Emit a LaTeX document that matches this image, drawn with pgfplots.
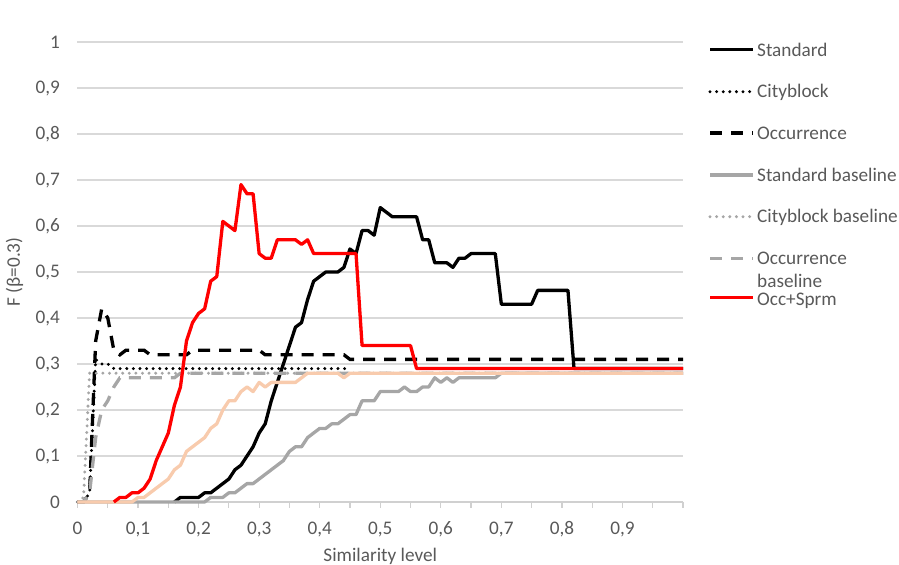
\documentclass[border=0pt]{standalone}
\usepackage{fontspec}
\setmainfont{Carlito}
\usepackage{pgfplots}
\usepackage{pgfplotstable}
\pgfplotsset{compat=1.18}

\definecolor{txtgray}{HTML}{595959}
\definecolor{gridgray}{HTML}{D9D9D9}
\definecolor{axisgray}{HTML}{D0D0D0}
\definecolor{basegray}{HTML}{A6A6A6}
\definecolor{peach}{HTML}{F8CBAD}
\definecolor{exred}{HTML}{FF0000}

% x: similarity level; columns: F(beta=0.3) per method
\pgfplotstableread{
x    std  city occ  stdb cityb occb peach sprm
0.00 nan  0    0    0    0    0    0    nan
0.01 nan  0    0    0    0.01 0    0    nan
0.02 nan  0.02 0.02 0    0.28 0.02 0    nan
0.03 nan  0.31 0.35 0    0.28 0.14 0    nan
0.04 nan  0.30 0.42 0    0.28 0.20 0    nan
0.05 nan  0.30 0.40 0    0.28 0.22 0    nan
0.06 nan  0.29 0.33 0    0.28 0.25 0    0
0.07 nan  0.29 0.32 0    0.28 0.27 0    0.01
0.08 nan  0.29 0.33 0    0.28 0.27 0    0.01
0.09 nan  0.29 0.33 0    0.28 0.27 0    0.02
0.10 nan  0.29 0.33 0    0.28 0.27 0.01 0.02
0.11 nan  0.29 0.33 0    0.28 0.27 0.01 0.03
0.12 nan  0.29 0.32 0    0.28 0.27 0.02 0.05
0.13 nan  0.29 0.32 0    0.28 0.27 0.03 0.09
0.14 nan  0.29 0.32 0    0.28 0.27 0.04 0.12
0.15 nan  0.29 0.32 0    0.28 0.27 0.05 0.15
0.16 0    0.29 0.32 0    0.28 0.27 0.07 0.21
0.17 0.01 0.29 0.32 0    0.28 0.28 0.08 0.25
0.18 0.01 0.29 0.32 0    0.28 0.28 0.11 0.35
0.19 0.01 0.29 0.33 0    0.28 0.28 0.12 0.39
0.20 0.01 0.29 0.33 0    0.28 0.28 0.13 0.41
0.21 0.02 0.29 0.33 0    0.28 0.28 0.14 0.42
0.22 0.02 0.29 0.33 0.01 0.28 0.28 0.16 0.48
0.23 0.03 0.29 0.33 0.01 0.28 0.28 0.17 0.49
0.24 0.04 0.29 0.33 0.01 0.28 0.28 0.20 0.61
0.25 0.05 0.29 0.33 0.02 0.28 0.28 0.22 0.60
0.26 0.07 0.29 0.33 0.02 0.28 0.28 0.22 0.59
0.27 0.08 0.29 0.33 0.03 0.28 0.28 0.24 0.69
0.28 0.10 0.29 0.33 0.04 0.28 0.28 0.25 0.67
0.29 0.12 0.29 0.33 0.04 0.28 0.28 0.24 0.67
0.30 0.15 0.29 0.33 0.05 0.28 0.28 0.26 0.54
0.31 0.17 0.29 0.32 0.06 0.28 0.28 0.25 0.53
0.32 0.22 0.29 0.32 0.07 0.28 0.28 0.26 0.53
0.33 0.26 0.29 0.32 0.08 0.28 0.28 0.26 0.57
0.34 0.30 0.29 0.32 0.09 0.28 0.28 0.26 0.57
0.35 0.34 0.29 0.32 0.11 0.28 0.28 0.26 0.57
0.36 0.38 0.29 0.32 0.12 0.28 0.28 0.26 0.57
0.37 0.39 0.29 0.32 0.12 0.28 0.28 0.27 0.56
0.38 0.44 0.29 0.32 0.14 0.28 0.28 0.28 0.57
0.39 0.48 0.29 0.32 0.15 0.28 0.28 0.28 0.54
0.40 0.49 0.29 0.32 0.16 0.28 0.28 0.28 0.54
0.41 0.50 0.29 0.32 0.16 0.28 0.28 0.28 0.54
0.42 0.50 0.29 0.32 0.17 0.28 0.28 0.28 0.54
0.43 0.50 0.29 0.32 0.17 0.28 0.28 0.28 0.54
0.44 0.51 0.29 0.32 0.18 0.28 0.28 0.27 0.54
0.45 0.55 0.29 0.31 0.19 0.28 0.28 0.28 0.54
0.46 0.54 nan  0.31 0.19 0.28 0.28 0.28 0.54
0.47 0.59 nan  0.31 0.22 0.28 0.28 0.28 0.34
0.48 0.59 nan  0.31 0.22 0.28 0.28 0.28 0.34
0.49 0.58 nan  0.31 0.22 0.28 0.28 0.28 0.34
0.50 0.64 nan  0.31 0.24 0.28 0.28 0.28 0.34
0.51 0.63 nan  0.31 0.24 0.28 0.28 0.28 0.34
0.52 0.62 nan  0.31 0.24 0.28 0.28 0.28 0.34
0.53 0.62 nan  0.31 0.24 0.28 0.28 0.28 0.34
0.54 0.62 nan  0.31 0.25 0.28 0.28 0.28 0.34
0.55 0.62 nan  0.31 0.24 0.28 0.28 0.28 0.34
0.56 0.62 nan  0.31 0.24 0.28 0.28 0.28 0.29
0.57 0.57 nan  0.31 0.25 0.28 0.28 0.28 0.29
0.58 0.57 nan  0.31 0.25 0.28 0.28 0.28 0.29
0.59 0.52 nan  0.31 0.27 0.28 0.28 0.28 0.29
0.60 0.52 nan  0.31 0.26 0.28 0.28 0.28 0.29
0.61 0.52 nan  0.31 0.27 0.28 0.28 0.28 0.29
0.62 0.51 nan  0.31 0.26 0.28 0.28 0.28 0.29
0.63 0.53 nan  0.31 0.27 0.28 0.28 0.28 0.29
0.64 0.53 nan  0.31 0.27 0.28 0.28 0.28 0.29
0.65 0.54 nan  0.31 0.27 0.28 0.28 0.28 0.29
0.66 0.54 nan  0.31 0.27 0.28 0.28 0.28 0.29
0.67 0.54 nan  0.31 0.27 0.28 0.28 0.28 0.29
0.68 0.54 nan  0.31 0.27 0.28 0.28 0.28 0.29
0.69 0.54 nan  0.31 0.27 0.28 0.28 0.28 0.29
0.70 0.43 nan  0.31 0.28 0.28 0.28 0.28 0.29
0.71 0.43 nan  0.31 0.28 0.28 0.28 0.28 0.29
0.72 0.43 nan  0.31 0.28 0.28 0.28 0.28 0.29
0.73 0.43 nan  0.31 0.28 0.28 0.28 0.28 0.29
0.74 0.43 nan  0.31 0.28 0.28 0.28 0.28 0.29
0.75 0.43 nan  0.31 0.28 0.28 0.28 0.28 0.29
0.76 0.46 nan  0.31 0.28 0.28 0.28 0.28 0.29
0.77 0.46 nan  0.31 0.28 0.28 0.28 0.28 0.29
0.78 0.46 nan  0.31 0.28 0.28 0.28 0.28 0.29
0.79 0.46 nan  0.31 0.28 0.28 0.28 0.28 0.29
0.80 0.46 nan  0.31 0.28 0.28 0.28 0.28 0.29
0.81 0.46 nan  0.31 0.28 0.28 0.28 0.28 0.29
0.82 0.29 nan  0.31 0.28 0.28 0.28 0.28 0.29
0.83 0.29 nan  0.31 0.28 0.28 0.28 0.28 0.29
0.84 0.29 nan  0.31 0.28 0.28 0.28 0.28 0.29
0.85 0.29 nan  0.31 0.28 0.28 0.28 0.28 0.29
0.86 0.29 nan  0.31 0.28 0.28 0.28 0.28 0.29
0.87 0.29 nan  0.31 0.28 0.28 0.28 0.28 0.29
0.88 0.29 nan  0.31 0.28 0.28 0.28 0.28 0.29
0.89 0.29 nan  0.31 0.28 0.28 0.28 0.28 0.29
0.90 0.29 nan  0.31 0.28 0.28 0.28 0.28 0.29
0.91 0.29 nan  0.31 0.28 0.28 0.28 0.28 0.29
0.92 0.29 nan  0.31 0.28 0.28 0.28 0.28 0.29
0.93 0.29 nan  0.31 0.28 0.28 0.28 0.28 0.29
0.94 0.29 nan  0.31 0.28 0.28 0.28 0.28 0.29
0.95 0.29 nan  0.31 0.28 0.28 0.28 0.28 0.29
0.96 0.29 nan  0.31 0.28 0.28 0.28 0.28 0.29
0.97 0.29 nan  0.31 0.28 0.28 0.28 0.28 0.29
0.98 0.29 nan  0.31 0.28 0.28 0.28 0.28 0.29
0.99 0.29 nan  0.31 0.28 0.28 0.28 0.28 0.29
1.00 0.29 nan  0.31 0.28 0.28 0.28 0.28 0.29
}\fdata

\tikzset{
  solidline/.style={line width=3.3bp, line join=round},
  dotline/.style={line width=3.3bp, line cap=round, dash pattern=on 0bp off 6.6bp},
  dashline/.style={line width=3.3bp, dash pattern=on 12bp off 9bp},
  keytext/.style={anchor=base west, inner sep=0pt, text=txtgray,
    font=\fontsize{19.3}{23}\selectfont},
}

\begin{document}
\begin{tikzpicture}
% page frame: the plot area's lower left corner is the origin
\path[use as bounding box] (-77.5bp,-63bp) rectangle (821.5bp,502bp);
\begin{axis}[
  anchor=south west,
  scale only axis, width=605.5bp, height=460bp,
  xmin=0, xmax=1, ymin=0, ymax=1,
  clip=false, axis on top=false,
  axis x line*=bottom, axis y line*=left,
  y axis line style={draw=none},
  x axis line style={draw=axisgray, line width=1.2bp},
  tick align=outside, major tick length=5.5bp,
  ytick style={draw=none},
  xtick style={draw=axisgray, line width=1.2bp},
  xtick={0,0.05,0.1,0.15,0.2,0.25,0.3,0.35,0.4,0.45,0.5,0.55,0.6,0.65,0.7,0.75,0.8,0.85,0.9,0.95,1},
  xticklabels={{0},{},{0,1},{},{0,2},{},{0,3},{},{0,4},{},{0,5},{},{0,6},{},{0,7},{},{0,8},{},{0,9},{},{}},
  ytick={0,0.1,0.2,0.3,0.4,0.5,0.6,0.7,0.8,0.9,1},
  yticklabels={{0},{0,1},{0,2},{0,3},{0,4},{0,5},{0,6},{0,7},{0,8},{0,9},{1}},
  ymajorgrids, major grid style={gridgray, line width=1.2bp},
  tick label style={font=\fontsize{19.3}{23}\selectfont, text=txtgray},
  yticklabel style={anchor=east, inner sep=0pt, xshift=-12bp},
  xticklabel style={anchor=north, inner sep=0pt, yshift=-14bp},
  xlabel={Similarity level},
  xlabel style={at={(axis description cs:0.5,-0.1283)}, anchor=base, inner sep=0pt,
    font=\fontsize{19.3}{23}\selectfont, text=txtgray},
  ylabel={F (β=0.3)},
  ylabel style={at={(axis description cs:-0.095,0.5)}, anchor=base, inner sep=0pt,
    font=\fontsize{19.3}{23}\selectfont, text=txtgray},
]
\addplot[black, solidline] table[x=x, y=std] {\fdata};
\addplot[black, dotline] table[x=x, y=city] {\fdata};
\addplot[black, dashline] table[x=x, y=occ] {\fdata};
\addplot[basegray, solidline] table[x=x, y=stdb] {\fdata};
\addplot[basegray, dotline] table[x=x, y=cityb] {\fdata};
\addplot[basegray, dashline] table[x=x, y=occb] {\fdata};
\addplot[peach, solidline] table[x=x, y=peach] {\fdata};
\addplot[exred, solidline] table[x=x, y=sprm] {\fdata};
\end{axis}

% key to the series, right of the plot area
\draw[black, solidline]    (632.5bp,452.5bp) -- (675.5bp,452.5bp);
\draw[black, dotline]      (632.5bp,410.3bp) -- (675.5bp,410.3bp);
\draw[black, dashline]     (632.5bp,369.0bp) -- (675.5bp,369.0bp);
\draw[basegray, solidline] (632.5bp,327.0bp) -- (675.5bp,327.0bp);
\draw[basegray, dotline]   (632.5bp,285.3bp) -- (675.5bp,285.3bp);
\draw[basegray, dashline]  (632.5bp,243.7bp) -- (675.5bp,243.7bp);
\draw[exred, solidline]    (632.5bp,204.3bp) -- (675.5bp,204.3bp);
\node[keytext] at (679.5bp,445.5bp) {Standard};
\node[keytext] at (679.5bp,404.0bp) {Cityblock};
\node[keytext] at (679.5bp,362.0bp) {Occurrence};
\node[keytext] at (679.5bp,320.3bp) {Standard baseline};
\node[keytext] at (679.5bp,279.0bp) {Cityblock baseline};
\node[keytext] at (679.5bp,237.0bp) {Occurrence};
\node[keytext] at (679.5bp,214.0bp) {baseline};
\node[keytext] at (679.5bp,196.0bp) {Occ+Sprm};
\end{tikzpicture}
\end{document}
